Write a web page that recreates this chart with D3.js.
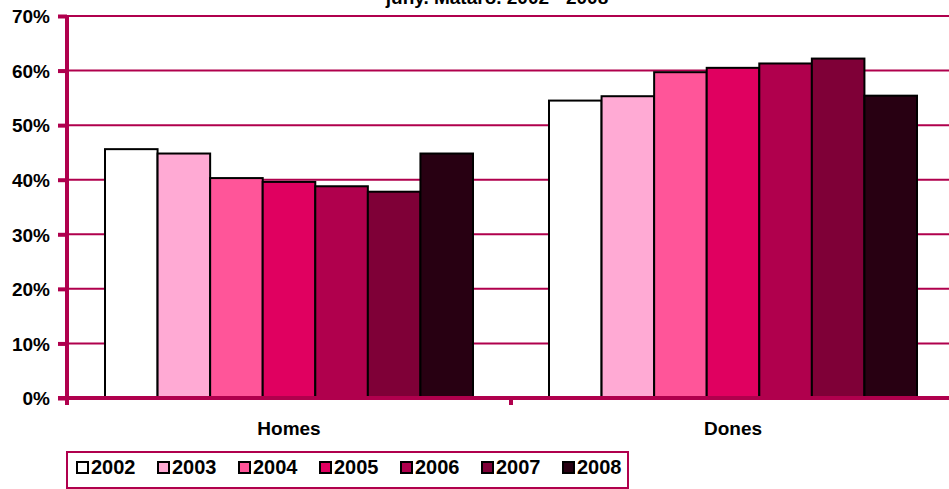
<!DOCTYPE html>
<html>
<head>
<meta charset="utf-8">
<script src="https://cdn.jsdelivr.net/npm/d3@7"></script>
<style>
  body { margin: 0; background: #fff; }
  svg { display: block; font-family: "Liberation Sans", Arial, sans-serif; font-weight: bold; }
</style>
</head>
<body>
<svg id="chart" width="949" height="489"></svg>
<script>
const categories = ['Homes', 'Dones'];
const years = ['2002', '2003', '2004', '2005', '2006', '2007', '2008'];
// share per year, Homes then Dones
const homes = [0.456, 0.448, 0.403, 0.396, 0.388, 0.378, 0.448];
const dones = [0.545, 0.553, 0.597, 0.605, 0.613, 0.622, 0.554];
const yTicks = [0, 0.1, 0.2, 0.3, 0.4, 0.5, 0.6, 0.7];
const colors = ['#FFFFFF', '#FFAAD4', '#FF5599', '#E00060', '#B0004D', '#7F0037', '#280012'];
const title = 'juny. Mataró. 2002 - 2008';

const axisColor = '#B0004D';
const svg = d3.select('#chart');

const margin = { left: 67, top: 16, bottom: 398 };
const x0 = d3.scaleBand().domain(categories).range([margin.left, 955]);
const x1 = d3.scaleBand().domain(years).range([38, x0.bandwidth() - 38]);
const y = d3.scaleLinear().domain([0, 0.7]).range([margin.bottom, margin.top]);
const color = d3.scaleOrdinal().domain(years).range(colors);

const rows = categories.map((c, i) => ({
    cat: c,
    values: years.map((yr, j) => ({ year: yr, v: (i === 0 ? homes : dones)[j] }))
}));

// title (clipped at top in the original)
svg.append('text')
    .attr('x', 497).attr('y', 4)
    .attr('text-anchor', 'middle')
    .style('font-size', '19px')
    .text(title);

// gridlines
svg.append('g')
    .selectAll('line')
    .data(yTicks.filter(t => t > 0))
    .enter().append('line')
    .attr('x1', margin.left).attr('x2', 949)
    .attr('y1', d => y(d)).attr('y2', d => y(d))
    .style('stroke', axisColor)
    .style('stroke-width', 2);

// bars
svg.append('g')
    .selectAll('g')
    .data(rows)
    .enter().append('g')
    .attr('transform', d => `translate(${x0(d.cat)},0)`)
    .selectAll('rect')
    .data(d => d.values)
    .enter().append('rect')
    .attr('x', d => x1(d.year))
    .attr('width', x1.bandwidth())
    .attr('y', d => y(d.v))
    .attr('height', d => y(0) - y(d.v))
    .style('fill', d => color(d.year))
    .style('stroke', '#000')
    .style('stroke-width', 2);

// y axis
const yAxis = svg.append('g')
    .attr('transform', `translate(${margin.left},0)`)
    .call(d3.axisLeft(y).tickValues(yTicks).tickFormat(d3.format('.0%')).tickSize(9).tickPadding(8));
yAxis.select('.domain').remove();
yAxis.selectAll('.tick line').style('stroke', axisColor).style('stroke-width', 4);
yAxis.selectAll('.tick text').style('font-size', '19px').style('fill', '#000').attr('dy', '0.36em');
yAxis.append('line')
    .attr('x1', 0).attr('x2', 0)
    .attr('y1', margin.top).attr('y2', margin.bottom + 7)
    .style('stroke', axisColor).style('stroke-width', 4);

// x axis
const xAxis = svg.append('g').attr('transform', `translate(0,${margin.bottom})`);
xAxis.append('line')
    .attr('x1', margin.left - 9).attr('x2', 949)
    .attr('y1', 0).attr('y2', 0)
    .style('stroke', axisColor).style('stroke-width', 4);
xAxis.selectAll('.sep')
    .data(categories.slice(1))
    .enter().append('line')
    .attr('x1', d => x0(d)).attr('x2', d => x0(d))
    .attr('y1', 0).attr('y2', 7)
    .style('stroke', axisColor).style('stroke-width', 4);
xAxis.selectAll('.cat')
    .data(categories)
    .enter().append('text')
    .attr('x', d => x0(d) + x0.bandwidth() / 2)
    .attr('y', 37)
    .attr('text-anchor', 'middle')
    .style('font-size', '19px')
    .text(d => d);

// legend
const legend = svg.append('g');
legend.append('rect')
    .attr('x', 67).attr('y', 452)
    .attr('width', 561).attr('height', 36)
    .style('fill', 'none')
    .style('stroke', axisColor)
    .style('stroke-width', 2);
const item = legend.selectAll('.item')
    .data(years)
    .enter().append('g')
    .attr('transform', (d, i) => `translate(${77 + i * 81},462)`);
item.append('rect')
    .attr('width', 11).attr('height', 11)
    .style('fill', d => color(d))
    .style('stroke', '#000')
    .style('stroke-width', 2);
item.append('text')
    .attr('x', 14).attr('y', 12)
    .style('font-size', '20px')
    .text(d => d);
</script>
</body>
</html>
